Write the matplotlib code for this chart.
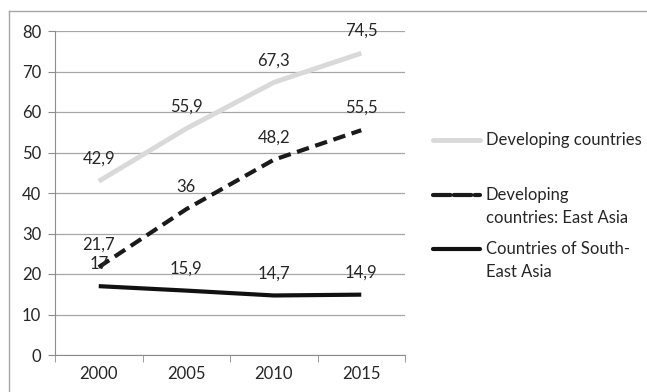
import matplotlib.pyplot as plt
from matplotlib.lines import Line2D

plt.rcParams['font.family'] = ['Lato', 'DejaVu Sans']

years = ['2000', '2005', '2010', '2015']
developing = [42.9, 55.9, 67.3, 74.5]
east_asia = [21.7, 36, 48.2, 55.5]
south_east = [17, 15.9, 14.7, 14.9]
names = ['Developing countries', 'Developing\ncountries: East Asia',
         'Countries of South-\nEast Asia']

W, H = 647, 392
FS = 12
fig = plt.figure(figsize=(W / 100, H / 100), dpi=100)
ax = fig.add_axes([55 / W, 1 - 355 / H, 350 / W, 324 / H])

x = list(range(len(years)))
l1, = ax.plot(x, developing, color='#d9d9d9', lw=3.5, solid_capstyle='butt')
l2, = ax.plot(x, east_asia, color='#1a1a1a', lw=3, ls=(0, (3, 1.6)))
l3, = ax.plot(x, south_east, color='#111111', lw=3, solid_capstyle='butt')

def fmt(v):
    return ('%g' % v).replace('.', ',')

for ys in (developing, east_asia, south_east):
    for xi, v in zip(x, ys):
        ax.annotate(fmt(v), (xi, v), xytext=(0, 16), textcoords='offset points',
                    ha='center', va='center', fontsize=FS, color='#262626')

ax.set_xlim(-0.5, 3.5)
ax.set_ylim(0, 80)
ax.set_yticks(range(0, 81, 10))
ax.set_xticks(x)
ax.set_xticklabels(years)
ax.set_xticks([-0.5, 0.5, 1.5, 2.5, 3.5], minor=True)
ax.tick_params(axis='x', which='major', length=0, pad=8, labelsize=FS, labelcolor='#262626')
ax.tick_params(axis='x', which='minor', length=5, color='#8c8c8c', direction='out')
ax.tick_params(axis='y', length=5, color='#8c8c8c', labelsize=FS, labelcolor='#262626', pad=5)
ax.grid(axis='y', color='#a6a6a6', lw=0.9)
ax.set_axisbelow(True)
for s in ('top', 'right'):
    ax.spines[s].set_visible(False)
for s in ('left', 'bottom'):
    ax.spines[s].set_color('#8c8c8c')

# legend drawn by hand so the key lines up with the first text line
for line, name, ypix in zip([l1, l2, l3], names, [140, 195, 249]):
    yf = 1 - ypix / H
    ls = (0, (4.2, 0.8)) if line is l2 else '-'
    fig.add_artist(Line2D([433 / W, 480 / W], [yf, yf], transform=fig.transFigure,
                          color=line.get_color(), lw=line.get_linewidth(), ls=ls,
                          dash_capstyle='round', solid_capstyle='round'))
    fig.text(486 / W, 1 - (ypix - 8) / H, name, ha='left', va='top', fontsize=FS,
             color='#262626', linespacing=1.55)

fig.add_artist(Line2D([9 / W, 9 / W], [0, 1 - 11 / H], transform=fig.transFigure,
                      color='#a6a6a6', lw=1))
fig.add_artist(Line2D([9 / W, 1], [1 - 11 / H, 1 - 11 / H], transform=fig.transFigure,
                      color='#a6a6a6', lw=1))

fig.savefig('out.png', dpi=100)
